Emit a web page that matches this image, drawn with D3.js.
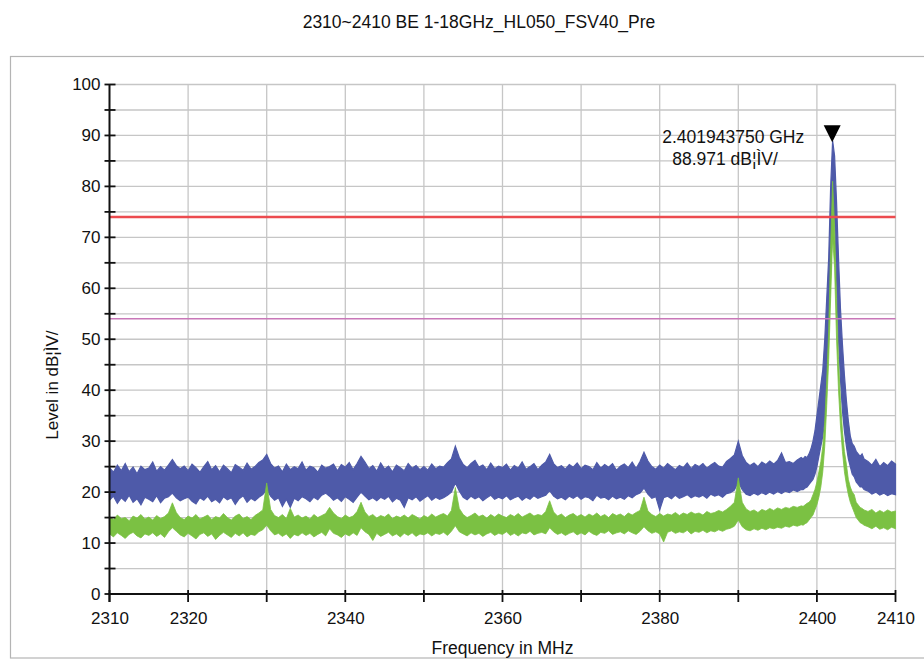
<!DOCTYPE html>
<html>
<head>
<meta charset="utf-8">
<script src="https://cdn.jsdelivr.net/npm/d3@7"></script>
<style>
  html, body { margin: 0; padding: 0; background: #ffffff; }
  svg { display: block; font-family: Arial, "Liberation Sans", sans-serif; }
</style>
</head>
<body>
<svg id="chart" width="924" height="660"></svg>
<script>
// ---------------- DATA ----------------
const chartTitle = "2310~2410 BE 1-18GHz_HL050_FSV40_Pre";
const xAxisTitle = "Frequency in MHz";
const yAxisTitle = "Level in dB\u00A6\u00CCV/";
const xTickValues = [2310, 2320, 2330, 2340, 2350, 2360, 2370, 2380, 2390, 2400, 2410];
const xTickLabels = ["2310", "2320", "", "2340", "", "2360", "", "2380", "", "2400", "2410"];
const yTickValues = [0, 10, 20, 30, 40, 50, 60, 70, 80, 90, 100];
const yMinorTicks = [5, 15, 25, 35, 45, 55, 65, 75, 85, 95];
const limitLevels = [74, 54];
const markerFreq = [2401.94375];
const markerLevel = [88.971];
const markerLabels = ["2.401943750 GHz", "88.971 dB\u00A6\u00CCV/"];

// frequency samples (MHz)
const freqs = [
  2310,2310.5,2311,2311.5,2312,2312.5,2313,2313.5,2314,2314.5,
  2315,2315.5,2316,2316.5,2317,2317.5,2318,2318.5,2319,2319.5,
  2320,2320.5,2321,2321.5,2322,2322.5,2323,2323.5,2324,2324.5,
  2325,2325.5,2326,2326.5,2327,2327.5,2328,2328.5,2329,2329.5,
  2330,2330.5,2331,2331.5,2332,2332.5,2333,2333.5,2334,2334.5,
  2335,2335.5,2336,2336.5,2337,2337.5,2338,2338.5,2339,2339.5,
  2340,2340.5,2341,2341.5,2342,2342.5,2343,2343.5,2344,2344.5,
  2345,2345.5,2346,2346.5,2347,2347.5,2348,2348.5,2349,2349.5,
  2350,2350.5,2351,2351.5,2352,2352.5,2353,2353.5,2354,2354.5,
  2355,2355.5,2356,2356.5,2357,2357.5,2358,2358.5,2359,2359.5,
  2360,2360.5,2361,2361.5,2362,2362.5,2363,2363.5,2364,2364.5,
  2365,2365.5,2366,2366.5,2367,2367.5,2368,2368.5,2369,2369.5,
  2370,2370.5,2371,2371.5,2372,2372.5,2373,2373.5,2374,2374.5,
  2375,2375.5,2376,2376.5,2377,2377.5,2378,2378.5,2379,2379.5,
  2380,2380.5,2381,2381.5,2382,2382.5,2383,2383.5,2384,2384.5,
  2385,2385.5,2386,2386.5,2387,2387.5,2388,2388.5,2389,2389.5,
  2390,2390.5,2391,2391.5,2392,2392.5,2393,2393.5,2394,2394.5,
  2395,2395.5,2396,2396.5,2397,2397.5,2398,
  2398.25,2398.5,2398.75,2399,2399.25,2399.5,2399.75,2400,
  2400.25,2400.5,2400.75,2401,2401.25,2401.5,2401.75,2402,
  2402.25,2402.5,2402.75,2403,2403.25,2403.5,2403.75,2404,
  2404.25,2404.5,2404.75,2405,2405.25,2405.5,2405.75,2406,
  2406.5,2407,2407.5,2408,2408.5,2409,2409.5,2410
];

// blue trace (peak detector) upper envelope, dBuV
const blueHigh = [
  24.8,23.9,25.3,24.2,25.6,24.0,24.9,23.6,25.1,24.4,
  24.7,25.9,24.1,25.0,24.3,25.3,26.4,25.2,24.6,25.1,
  24.2,25.5,24.8,23.9,25.0,26.0,24.4,25.2,24.0,25.3,
  24.6,23.8,25.4,24.9,24.3,25.7,24.5,25.0,25.8,26.3,
  27.4,25.6,24.7,25.1,24.0,25.5,24.4,25.0,24.6,25.9,
  24.3,25.1,24.8,23.9,25.3,24.7,25.0,25.5,24.2,25.4,
  24.9,25.8,24.4,25.6,27.0,25.9,24.6,25.2,24.1,25.7,
  24.5,25.1,24.0,25.3,24.8,24.2,25.6,24.7,25.2,24.4,
  25.0,24.3,25.5,24.6,25.1,24.9,25.8,26.5,29.0,26.8,
  25.4,24.8,25.6,26.2,24.9,25.3,24.4,25.7,24.6,25.1,
  24.8,25.5,24.3,25.2,24.7,25.9,24.5,25.0,25.6,24.4,
  25.3,25.9,27.4,25.6,24.8,25.2,24.5,25.4,24.9,25.7,
  24.6,25.3,25.0,24.4,25.8,24.7,25.4,24.9,25.6,24.3,
  25.1,25.5,24.8,25.9,24.6,26.0,27.8,26.1,25.0,24.5,
  25.3,24.7,25.6,25.0,24.4,25.2,24.8,25.7,24.6,25.4,
  25.0,25.6,24.7,25.3,25.8,25.1,24.9,26.0,26.6,27.3,
  30.0,27.2,25.8,25.2,25.7,25.0,25.9,25.4,26.1,25.5,
  26.2,27.7,25.8,26.0,25.6,26.3,26.8,
  26.5,27.0,26.8,27.5,28.5,30.0,32.0,35.0,
  38.0,41.0,44.0,50.0,58.0,66.0,80.0,89.0,
  86.0,77.0,66.0,56.0,49.0,43.0,38.0,34.0,
  31.0,29.5,29.0,28.0,27.5,27.0,27.5,26.5,
  26.0,25.3,26.4,25.0,25.8,25.2,26.1,25.5
];

// blue trace lower envelope
const blueLow = [
  18.4,19.2,17.8,18.9,18.2,19.4,18.0,18.7,17.5,19.0,
  18.6,18.1,19.3,17.9,18.8,19.1,19.8,18.9,18.3,18.7,
  19.0,18.2,17.7,18.9,18.4,19.2,18.1,18.6,17.9,19.1,
  18.5,18.9,17.6,18.7,19.3,18.0,18.8,18.3,19.0,19.5,
  20.5,19.2,18.4,18.9,17.2,18.6,17.0,18.8,18.3,19.1,
  18.7,18.1,19.0,18.5,19.4,19.8,19.2,18.4,18.9,18.2,
  19.1,18.6,18.0,19.0,20.0,19.2,18.5,18.9,18.3,19.0,
  18.6,19.2,18.1,18.8,18.4,17.0,18.9,18.5,19.1,18.2,
  18.8,19.3,18.4,19.0,18.6,18.9,19.4,20.0,21.8,20.2,
  19.0,18.5,19.2,18.7,19.1,18.3,18.9,19.4,18.6,19.0,
  18.7,19.3,18.5,18.9,19.2,18.4,19.0,18.6,19.3,18.8,
  19.1,19.4,20.3,19.2,18.7,19.0,18.5,19.2,18.8,19.3,
  18.6,19.1,18.9,18.3,19.4,18.8,19.0,18.5,19.2,18.7,
  19.0,18.6,19.3,18.9,19.5,19.8,20.8,19.6,18.8,19.1,
  16.5,18.9,19.2,18.7,19.4,18.8,19.1,19.5,18.9,19.3,
  19.0,19.4,18.8,19.6,19.2,19.5,19.0,19.7,19.9,20.4,
  22.0,20.5,19.6,19.3,19.8,19.4,19.9,19.5,20.0,19.6,
  20.1,19.7,20.2,19.9,20.4,20.1,20.5,
  20.5,20.8,21.0,21.5,22.0,22.5,23.5,25.0,
  27.0,29.0,31.0,34.0,42.0,52.0,63.0,73.0,
  74.0,62.0,50.0,42.0,36.0,32.0,29.0,26.5,
  25.0,23.5,23.0,22.0,21.5,21.0,21.0,20.5,
  20.2,19.6,20.0,19.4,19.8,19.3,19.7,19.5
];

// green trace (average detector) upper envelope
const greenHigh = [
  15.2,14.6,15.5,14.8,15.0,14.4,15.3,14.9,15.6,14.7,
  15.1,14.5,15.4,14.8,15.2,15.9,17.9,16.0,15.0,14.6,
  15.3,14.9,15.6,14.7,15.1,15.5,14.6,15.2,14.9,15.8,
  15.0,14.5,15.3,15.7,14.8,15.2,14.6,15.4,15.9,16.5,
  21.8,16.6,15.4,15.0,15.6,14.8,16.8,15.1,15.5,14.9,
  15.3,14.7,15.6,15.0,15.4,15.8,17.0,15.9,15.2,14.8,
  15.5,15.0,15.3,16.2,18.0,16.1,15.2,15.6,14.9,15.4,
  15.1,15.7,14.8,15.3,15.0,15.5,14.9,15.6,15.2,14.7,
  15.4,15.0,15.7,15.1,15.5,15.8,15.3,16.4,20.9,16.8,
  15.6,15.0,15.4,15.9,15.2,15.5,14.9,15.6,15.1,15.7,
  15.3,15.0,15.6,15.2,15.8,15.1,15.5,15.9,15.3,15.6,
  15.4,16.2,18.3,16.1,15.3,15.7,15.0,15.5,15.8,15.2,
  15.6,15.1,15.7,15.3,15.9,15.2,15.6,15.0,15.8,15.4,
  15.7,15.2,15.9,15.5,16.0,16.4,19.0,16.3,15.6,15.2,
  15.8,15.3,15.7,15.5,16.0,15.4,15.9,15.6,16.1,15.7,
  15.9,15.5,16.2,15.8,16.0,16.4,16.1,16.6,17.2,18.0,
  22.8,18.0,16.7,16.2,16.5,16.0,16.6,16.3,16.8,16.4,
  16.9,16.6,17.0,16.8,17.2,17.0,17.3,
  17.2,17.5,17.8,18.0,18.5,19.5,20.5,22.0,
  24.0,26.0,29.0,34.0,42.0,52.0,68.0,81.0,
  72.0,58.0,46.0,38.0,32.0,28.0,25.5,22.5,
  21.0,20.0,19.5,18.0,17.5,17.0,16.8,16.5,
  16.2,16.6,15.9,16.4,16.0,16.5,16.1,16.3
];

// green trace lower envelope
const greenLow = [
  11.8,11.2,12.0,11.5,10.9,11.7,12.1,11.4,11.0,11.8,
  11.5,12.0,11.3,11.8,11.1,12.2,13.0,12.3,11.6,11.2,
  11.9,11.4,10.8,11.7,12.0,11.3,11.8,10.7,11.5,12.1,
  11.6,11.1,11.9,11.4,12.0,11.2,11.7,11.5,12.2,12.6,
  13.5,12.4,11.6,11.9,11.3,11.8,10.9,11.7,11.4,12.0,
  11.5,11.9,11.2,11.7,12.1,11.4,12.8,11.9,11.6,11.1,
  11.8,11.4,12.0,11.5,13.0,12.2,11.7,10.5,11.9,11.3,
  11.7,12.1,11.4,11.8,11.2,11.9,11.5,12.0,11.3,11.8,
  11.6,12.0,11.4,11.9,11.7,12.1,11.5,12.3,13.4,12.2,
  11.8,11.4,12.0,11.6,11.9,11.3,11.8,12.1,11.5,11.9,
  11.7,12.2,11.5,11.9,11.4,12.0,11.8,12.3,11.6,11.9,
  12.1,11.8,13.0,12.2,11.7,12.0,11.5,11.9,12.2,11.6,
  12.0,11.6,12.3,11.8,11.5,12.1,11.9,12.4,11.7,12.0,
  12.2,11.8,12.4,12.0,11.7,12.3,13.2,12.4,11.9,12.2,
  11.8,10.2,12.1,12.4,11.9,12.2,12.0,12.5,11.8,12.3,
  12.1,12.5,12.0,12.4,12.2,12.6,12.3,12.7,12.9,13.3,
  14.5,13.2,12.6,12.4,12.8,12.5,12.9,12.6,13.0,12.8,
  13.1,12.9,13.3,13.1,13.5,13.3,13.6,
  13.5,13.8,14.0,14.5,15.0,15.5,16.5,17.5,
  19.0,21.0,24.0,29.0,37.0,46.0,58.0,70.0,
  64.0,50.0,40.0,33.0,28.0,24.0,21.5,19.5,
  18.0,17.0,16.0,15.0,14.5,14.0,13.8,13.5,
  13.2,12.8,13.3,12.7,13.0,12.6,13.1,12.8
];

// ---------------- DRAWING ----------------
const svg = d3.select("#chart");
const W = 924, H = 660;
const margin = { left: 109.5, right: 924 - 895.5, top: 84.5, bottom: 660 - 594 };
const iw = W - margin.left - margin.right;
const ih = H - margin.top - margin.bottom;

// outer frame
svg.append("rect")
  .attr("x", 10.5).attr("y", 56.5)
  .attr("width", 940).attr("height", 601.5)
  .attr("fill", "#ffffff")
  .attr("stroke", "#b4b4b4").attr("stroke-width", 1.2);

// title
svg.append("text")
  .attr("x", 479).attr("y", 28)
  .attr("text-anchor", "middle")
  .attr("font-size", 17.5).attr("fill", "#111")
  .text(chartTitle);

const x = d3.scaleLinear().domain([2310, 2410]).range([margin.left, margin.left + iw]);
const y = d3.scaleLinear().domain([0, 100]).range([margin.top + ih, margin.top]);

const g = svg.append("g");

// grid
const gridCol = "#c6c6c6";
g.append("g").selectAll("line")
  .data(yTickValues.concat(yMinorTicks).filter(v => v > 0))
  .join("line")
  .attr("x1", x(2310)).attr("x2", x(2410))
  .attr("y1", d => y(d)).attr("y2", d => y(d))
  .attr("stroke", gridCol).attr("stroke-width", 1.3);
g.append("g").selectAll("line")
  .data(xTickValues.filter(v => v > 2310))
  .join("line")
  .attr("x1", d => x(d)).attr("x2", d => x(d))
  .attr("y1", y(0)).attr("y2", y(100))
  .attr("stroke", gridCol).attr("stroke-width", 1.3);

const pts = freqs.map((f, i) => ({ f, bh: blueHigh[i], bl: blueLow[i], gh: greenHigh[i], gl: greenLow[i] }));

const plot = g.append("g");
// blue trace
plot.append("path")
  .datum(pts)
  .attr("d", d3.area().x(d => x(d.f)).y0(d => y(d.bl)).y1(d => y(d.bh)).curve(d3.curveLinear))
  .attr("fill", "#4e5aa9").attr("stroke", "#4e5aa9").attr("stroke-width", 1.2)
  .attr("stroke-linejoin", "miter");
// green trace
plot.append("path")
  .datum(pts)
  .attr("d", d3.area().x(d => x(d.f)).y0(d => y(d.gl)).y1(d => y(d.gh)).curve(d3.curveLinear))
  .attr("fill", "#7bc143").attr("stroke", "#7bc143").attr("stroke-width", 0.8);

// limit lines
const limitColors = ["#ec4b4f", "#c877b8"];
const limitWidths = [2.6, 1.5];
g.append("g").selectAll("line")
  .data(limitLevels)
  .join("line")
  .attr("x1", x(2310)).attr("x2", x(2410))
  .attr("y1", d => y(d)).attr("y2", d => y(d))
  .attr("stroke", (d, i) => limitColors[i]).attr("stroke-width", (d, i) => limitWidths[i]);

// axes
const yAxis = d3.axisLeft(y).tickValues(yTickValues).tickSize(0).tickPadding(9).tickFormat(d3.format("d"));
const yg = g.append("g").attr("transform", `translate(${x(2310)},0)`).call(yAxis);
yg.select(".domain").remove();
yg.selectAll("text").attr("font-size", 17).attr("fill", "#111").attr("font-family", "Arial, 'Liberation Sans', sans-serif");

const xAxis = d3.axisBottom(x).tickValues(xTickValues).tickSize(0).tickPadding(18)
  .tickFormat((d, i) => xTickLabels[i]);
const xg = g.append("g").attr("transform", `translate(0,${y(0)})`).call(xAxis);
xg.select(".domain").remove();
xg.selectAll("text").attr("font-size", 17).attr("fill", "#111").attr("font-family", "Arial, 'Liberation Sans', sans-serif");

// axis lines and ticks (crossing)
g.append("line").attr("x1", x(2310)).attr("x2", x(2310)).attr("y1", y(100)).attr("y2", y(0) + 8)
  .attr("stroke", "#111").attr("stroke-width", 2);
g.append("line").attr("x1", x(2310) - 1).attr("x2", x(2410) + 0.5).attr("y1", y(0)).attr("y2", y(0))
  .attr("stroke", "#111").attr("stroke-width", 2);
g.append("g").selectAll("line")
  .data(yTickValues.concat(yMinorTicks))
  .join("line")
  .attr("x1", x(2310) - 5).attr("x2", x(2310) + 6)
  .attr("y1", d => y(d)).attr("y2", d => y(d))
  .attr("stroke", "#111").attr("stroke-width", 1.8);
g.append("g").selectAll("line")
  .data(xTickValues)
  .join("line")
  .attr("x1", d => x(d)).attr("x2", d => x(d))
  .attr("y1", y(0) - 4).attr("y2", y(0) + 8)
  .attr("stroke", "#111").attr("stroke-width", 1.8);

// axis titles
svg.append("text")
  .attr("x", x(2360)).attr("y", 654)
  .attr("text-anchor", "middle").attr("font-size", 17.5).attr("fill", "#111")
  .text(xAxisTitle);
svg.append("text")
  .attr("transform", `translate(58,${y(41)}) rotate(-90)`)
  .attr("text-anchor", "middle").attr("font-size", 17).attr("fill", "#111")
  .text(yAxisTitle);

// marker
const mx = x(markerFreq[0]), my = y(markerLevel[0]);
svg.append("path")
  .attr("d", `M${mx - 8.5},${my - 15.5} L${mx + 8.5},${my - 15.5} L${mx},${my + 1.5} Z`)
  .attr("fill", "#000");
svg.append("text")
  .attr("x", mx - 170).attr("y", my + 2.5)
  .attr("text-anchor", "start").attr("font-size", 17.5).attr("fill", "#111")
  .text(markerLabels[0]);
svg.append("text")
  .attr("x", mx - 160).attr("y", my + 24.5)
  .attr("text-anchor", "start").attr("font-size", 17.5).attr("fill", "#111")
  .text(markerLabels[1]);
</script>
</body>
</html>
